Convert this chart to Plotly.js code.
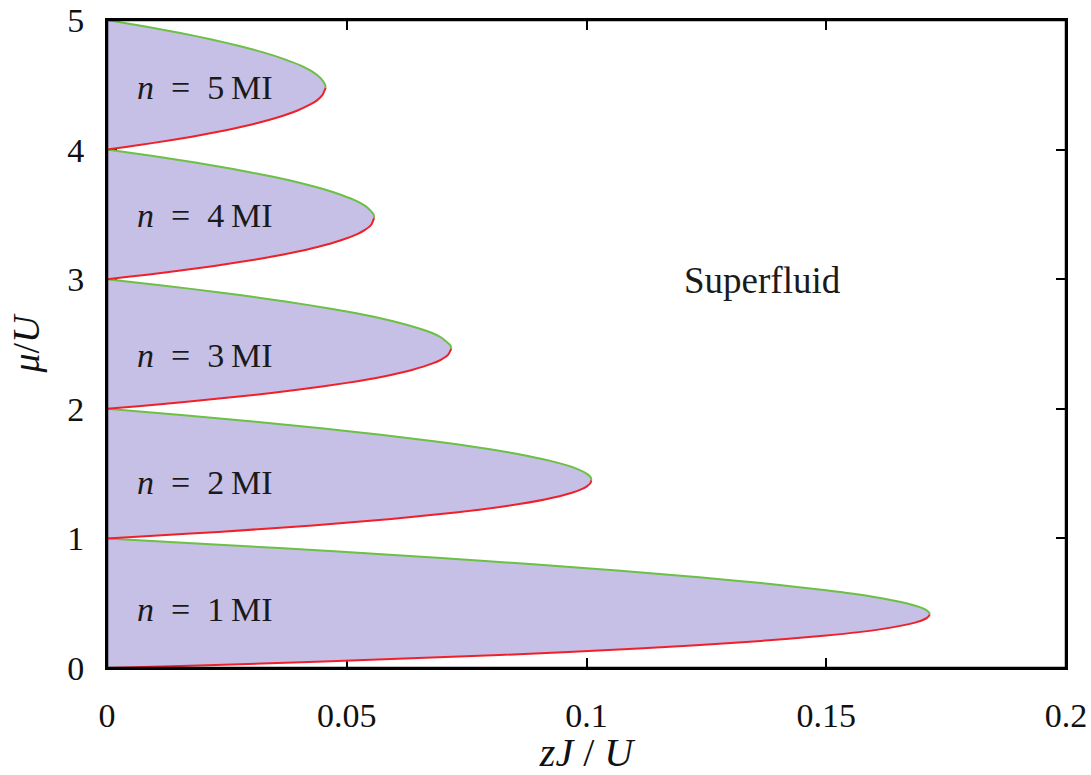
<!DOCTYPE html>
<html>
<head>
<meta charset="utf-8">
<script src="https://cdn.plot.ly/plotly-3.0.1.min.js"></script>
<style>html,body{margin:0;padding:0;background:#fff}#chart{width:1091px;height:775px}</style>
</head>
<body>
<div id="chart"></div>
<script>
// Mott lobes: lower (red) and upper (green) branches
const lobe1LowerMu = [0, 0.02, 0.05, 0.1, 0.15, 0.2, 0.25, 0.3, 0.35, 0.38, 0.4, 0.414];
const lobe1LowerZJ = [0, 0.0192, 0.0452, 0.0818, 0.1109, 0.1333, 0.15, 0.1615, 0.1685, 0.1707, 0.1714, 0.1716];
const lobe1UpperMu = [0.414, 0.43, 0.45, 0.47, 0.5, 0.55, 0.6, 0.65, 0.7, 0.75, 0.8, 0.85, 0.9, 0.95, 1.0];
const lobe1UpperZJ = [0.1716, 0.1714, 0.1707, 0.1695, 0.1667, 0.1597, 0.15, 0.1379, 0.1235, 0.1071, 0.0889, 0.0689, 0.0474, 0.0244, 0];

const lobe2LowerMu = [1.0, 1.02, 1.05, 1.1, 1.15, 1.2, 1.25, 1.3, 1.35, 1.38, 1.4, 1.425, 1.449];
const lobe2LowerZJ = [0, 0.0097, 0.0232, 0.0429, 0.0593, 0.0727, 0.0833, 0.0913, 0.0968, 0.099, 0.1, 0.1008, 0.101];
const lobe2UpperMu = [1.449, 1.47, 1.5, 1.55, 1.6, 1.65, 1.7, 1.75, 1.8, 1.85, 1.9, 1.95, 2.0];
const lobe2UpperZJ = [0.101, 0.1009, 0.1, 0.0971, 0.0923, 0.0859, 0.0778, 0.0682, 0.0571, 0.0447, 0.031, 0.0161, 0];

const lobe3LowerMu = [2.0, 2.02, 2.05, 2.1, 2.15, 2.2, 2.25, 2.3, 2.35, 2.38, 2.42, 2.464];
const lobe3LowerZJ = [0, 0.0065, 0.0156, 0.029, 0.0405, 0.05, 0.0577, 0.0636, 0.0679, 0.0697, 0.0712, 0.0718];
const lobe3UpperMu = [2.464, 2.49, 2.55, 2.6, 2.65, 2.7, 2.75, 2.8, 2.85, 2.9, 2.95, 3.0];
const lobe3UpperZJ = [0.0718, 0.0716, 0.0697, 0.0667, 0.0623, 0.0568, 0.05, 0.0421, 0.0331, 0.0231, 0.012, 0];

const lobe4LowerMu = [3.0, 3.02, 3.05, 3.1, 3.15, 3.2, 3.25, 3.3, 3.35, 3.38, 3.42, 3.472];
const lobe4LowerZJ = [0, 0.0049, 0.0117, 0.022, 0.0307, 0.0381, 0.0441, 0.0488, 0.0523, 0.0538, 0.0551, 0.0557];
const lobe4UpperMu = [3.472, 3.5, 3.55, 3.6, 3.65, 3.7, 3.75, 3.8, 3.85, 3.9, 3.95, 4.0];
const lobe4UpperZJ = [0.0557, 0.0556, 0.0544, 0.0522, 0.0489, 0.0447, 0.0395, 0.0333, 0.0263, 0.0184, 0.0096, 0];

const lobe5LowerMu = [4.0, 4.02, 4.05, 4.1, 4.15, 4.2, 4.25, 4.3, 4.35, 4.38, 4.42, 4.477];
const lobe5LowerZJ = [0, 0.0039, 0.0094, 0.0177, 0.0248, 0.0308, 0.0357, 0.0396, 0.0425, 0.0438, 0.0449, 0.0456];
const lobe5UpperMu = [4.477, 4.5, 4.55, 4.6, 4.65, 4.7, 4.75, 4.8, 4.85, 4.9, 4.95, 5.0];
const lobe5UpperZJ = [0.0456, 0.0455, 0.0446, 0.0429, 0.0403, 0.0368, 0.0326, 0.0276, 0.0218, 0.0153, 0.008, 0];

const lobeLabels = ["1", "2", "3", "4", "5"];
const lobeLabelMu = [0.45, 1.43, 2.415, 3.49, 4.48];
const lobeLabelZJ = 0.0058;
const phaseLabel = "Superfluid";
const phaseLabelZJ = 0.1368;
const phaseLabelMu = 2.99;

const xTickVals = [0, 0.05, 0.1, 0.15, 0.2];
const xTickText = ["0", "0.05", "0.1", "0.15", "0.2"];
const yTickVals = [0, 1, 2, 3, 4, 5];
const yTickText = ["0", "1", "2", "3", "4", "5"];

const lobes = [
  [lobe1LowerMu, lobe1LowerZJ, lobe1UpperMu, lobe1UpperZJ],
  [lobe2LowerMu, lobe2LowerZJ, lobe2UpperMu, lobe2UpperZJ],
  [lobe3LowerMu, lobe3LowerZJ, lobe3UpperMu, lobe3UpperZJ],
  [lobe4LowerMu, lobe4LowerZJ, lobe4UpperMu, lobe4UpperZJ],
  [lobe5LowerMu, lobe5LowerZJ, lobe5UpperMu, lobe5UpperZJ]
];

const FILL = '#c6bfe6';
const RED = '#f0202a';
const GREEN = '#6cc044';
const SERIF = '"Liberation Serif", "DejaVu Serif", serif';

const traces = [];
lobes.forEach(l => {
  const [lm, lz, um, uz] = l;
  traces.push({
    x: lz.concat(uz.slice(1)), y: lm.concat(um.slice(1)),
    type: 'scatter', mode: 'lines', fill: 'toself', fillcolor: FILL,
    line: {width: 0, shape: 'spline', smoothing: 0.5}, hoverinfo: 'skip', showlegend: false
  });
});
lobes.forEach(l => {
  const [lm, lz, um, uz] = l;
  traces.push({x: lz, y: lm, type: 'scatter', mode: 'lines',
    line: {color: RED, width: 2, shape: 'spline', smoothing: 0.5}, showlegend: false});
  traces.push({x: uz, y: um, type: 'scatter', mode: 'lines',
    line: {color: GREEN, width: 2, shape: 'spline', smoothing: 0.5}, showlegend: false});
});

const annotations = lobeLabels.map((t, i) => ({
  x: lobeLabelZJ, y: lobeLabelMu[i], xref: 'x', yref: 'y',
  text: '<i>n</i>\u2002=\u2002' + t + '\u2009MI', showarrow: false, xanchor: 'left', yanchor: 'middle',
  font: {family: SERIF, size: 34, color: '#1a1a1a'}
}));
annotations.push({
  x: phaseLabelZJ, y: phaseLabelMu, xref: 'x', yref: 'y', text: phaseLabel,
  showarrow: false, xanchor: 'center', yanchor: 'middle',
  font: {family: SERIF, size: 37, color: '#1a1a1a'}
});

const layout = {
  width: 1091, height: 775,
  margin: {l: 107, r: 25, t: 20, b: 107},
  paper_bgcolor: '#fff', plot_bgcolor: '#fff',
  font: {family: SERIF, size: 34, color: '#111'},
  showlegend: false,
  xaxis: {
    range: [0, 0.2], tickvals: xTickVals, ticktext: xTickText,
    ticks: 'inside', ticklen: 10, tickwidth: 2, tickcolor: '#000',
    mirror: 'ticks', showline: true, linecolor: '#000', linewidth: 2,
    showgrid: false, zeroline: false, layer: 'below traces',
    ticklabelstandoff: 16,
    title: {text: '<i>zJ</i>\u2005/\u2005<i>U</i>', font: {family: SERIF, size: 40}, standoff: 16}
  },
  yaxis: {
    range: [0, 5], tickvals: yTickVals, ticktext: yTickText,
    ticks: 'inside', ticklen: 10, tickwidth: 2, tickcolor: '#000',
    mirror: 'ticks', showline: true, linecolor: '#000', linewidth: 2,
    showgrid: false, zeroline: false, layer: 'below traces',
    ticklabelstandoff: 14,
    title: {text: '<i>μ</i>/<i>U</i>', font: {family: SERIF, size: 38}, standoff: 16}
  },
  shapes: [{type: 'rect', xref: 'paper', yref: 'paper', x0: 0, x1: 1, y0: 0, y1: 1,
    line: {color: '#000', width: 2.5}, layer: 'above'}],
  annotations: annotations
};

Plotly.newPlot('chart', traces, layout, {staticPlot: true, displayModeBar: false});
</script>
</body>
</html>
